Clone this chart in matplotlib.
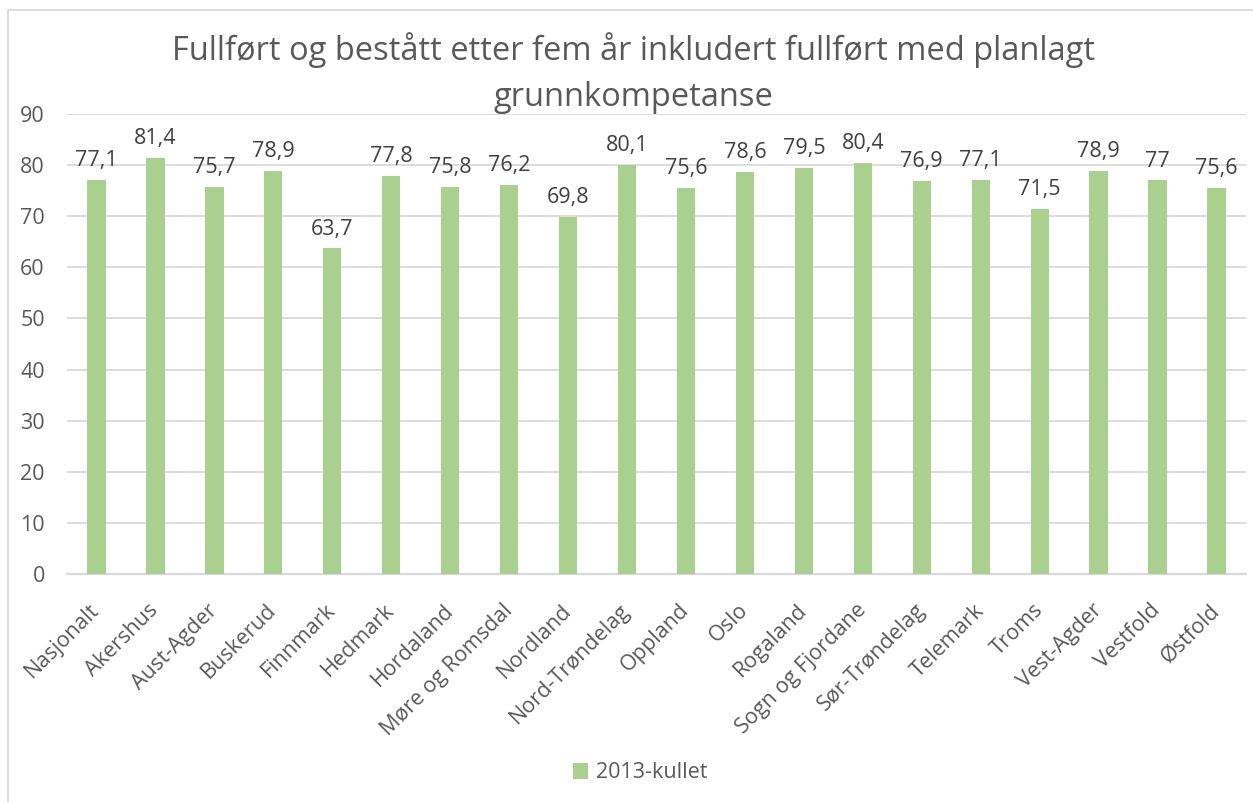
import matplotlib
matplotlib.use("Agg")
import matplotlib.pyplot as plt
from matplotlib.patches import Rectangle

categories = ["Nasjonalt", "Akershus", "Aust-Agder", "Buskerud", "Finnmark", "Hedmark",
              "Hordaland", "Møre og Romsdal", "Nordland", "Nord-Trøndelag", "Oppland", "Oslo",
              "Rogaland", "Sogn og Fjordane", "Sør-Trøndelag", "Telemark", "Troms",
              "Vest-Agder", "Vestfold", "Østfold"]
values = [77.1, 81.4, 75.7, 78.9, 63.7, 77.8, 75.8, 76.2, 69.8, 80.1,
          75.6, 78.6, 79.5, 80.4, 76.9, 77.1, 71.5, 78.9, 77.0, 75.6]
yticks = [0, 10, 20, 30, 40, 50, 60, 70, 80, 90]
series_name = "2013-kullet"
title = "Fullført og bestått etter fem år inkludert fullført med planlagt\ngrunnkompetanse"

plt.rcParams['font.family'] = ['Open Sans', 'DejaVu Sans']
TXT = "#595959"
LBL = "#404040"
BAR = "#A9D08E"
GRID = "#D9D9D9"
FS = 15.5

W, H = 1253, 802
fig = plt.figure(figsize=(W / 100, H / 100), dpi=100)
ax = fig.add_axes([67 / W, 1 - 574 / H, (1246 - 67) / W, (574 - 114) / H])

x = list(range(len(categories)))
bars = ax.bar(x, values, width=0.31, color=BAR, zorder=3, label=series_name)
ax.set_xlim(-0.5, len(categories) - 0.5)
ax.set_ylim(0, 90)
ax.set_yticks(yticks)
ax.set_yticklabels([str(t) for t in yticks], fontsize=FS, color=TXT)
ax.yaxis.grid(True, color=GRID, linewidth=1.3, zorder=0)
ax.tick_params(axis='y', length=0, pad=16)
ax.tick_params(axis='x', length=0, pad=24)
for s in ["top", "right", "left"]:
    ax.spines[s].set_visible(False)
ax.spines["bottom"].set_color(GRID)
ax.spines["bottom"].set_linewidth(1.6)

ax.set_xticks(x)
ax.set_xticklabels(categories, rotation=45, ha='right', va='center',
                   rotation_mode='anchor', fontsize=FS, color=TXT)

for xi, v in zip(x, values):
    lab = f"{v:g}".replace(".", ",")
    ax.annotate(lab, (xi, v), xytext=(0, 10), textcoords="offset points",
                ha='center', va='baseline', fontsize=FS, color=LBL)

fig.text(633 / W, 1 - 73 / H, title, ha='center', va='center', fontsize=23.5,
         color=TXT, linespacing=1.5)

leg = fig.legend(handles=[bars], labels=[series_name], loc='center',
                 bbox_to_anchor=(640 / W, 1 - 773 / H), frameon=False,
                 fontsize=FS, handlelength=0.7, handleheight=0.7, handletextpad=0.35)
for t in leg.get_texts():
    t.set_color(TXT)

# chart area border (left and top visible)
fig.patches.append(Rectangle((8 / W, -0.1), 1.2, 1 - 10 / H + 0.1,
                             transform=fig.transFigure, fill=False,
                             edgecolor=GRID, linewidth=1.3))

fig.savefig("out.png", dpi=100)
